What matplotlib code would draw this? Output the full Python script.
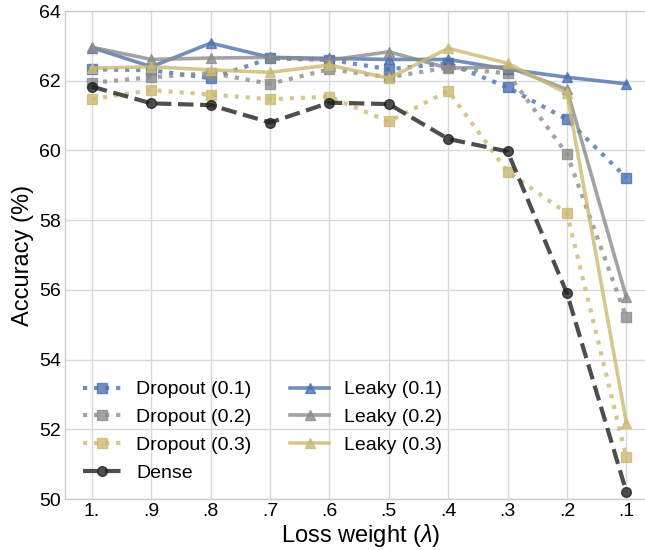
import matplotlib
matplotlib.use("Agg")
import matplotlib.pyplot as plt
import numpy as np

plt.rcParams['font.family'] = ['Liberation Sans', 'DejaVu Sans']
plt.rcParams['mathtext.fontset'] = 'custom'
plt.rcParams['mathtext.it'] = 'Liberation Sans:italic'
plt.rcParams['mathtext.rm'] = 'Liberation Sans'

tick_labels = ["1.", ".9", ".8", ".7", ".6", ".5", ".4", ".3", ".2", ".1"]

dropout_01 = [62.33, 62.30, 62.07, 62.64, 62.60, 62.33, 62.50, 61.81, 60.89, 59.22]
dropout_02 = [61.94, 62.10, 62.22, 61.91, 62.33, 62.10, 62.38, 62.21, 59.90, 55.21]
dropout_03 = [61.47, 61.73, 61.60, 61.47, 61.54, 60.83, 61.71, 59.39, 58.20, 51.20]
dense      = [61.83, 61.35, 61.30, 60.80, 61.37, 61.33, 60.33, 59.97, 55.90, 50.21]
leaky_01   = [62.95, 62.40, 63.08, 62.67, 62.64, 62.61, 62.61, 62.33, 62.10, 61.91]
leaky_02   = [62.96, 62.61, 62.65, 62.67, 62.59, 62.83, 62.36, 62.40, 61.75, 55.79]
leaky_03   = [62.36, 62.40, 62.31, 62.24, 62.45, 62.07, 62.93, 62.50, 61.64, 52.19]

blue = '#4C72B0'
grey = '#8C8C8C'
yellow = '#CCB974'
dark = '#222222'

fig = plt.figure(figsize=(6.45, 5.5), dpi=100)
ax = fig.add_axes([65/645, 51/550, (656-65)/645, 488/550])
x = np.arange(len(tick_labels))

a = 0.8
ax.plot(x, dropout_01, ls=':', lw=3, color=blue, marker='s', ms=7.5, alpha=a, label='Dropout (0.1)')
ax.plot(x, dropout_02, ls=':', lw=3, color=grey, marker='s', ms=7.5, alpha=a, label='Dropout (0.2)')
ax.plot(x, dropout_03, ls=':', lw=3, color=yellow, marker='s', ms=7.5, alpha=a, label='Dropout (0.3)')
ax.plot(x, dense, ls='--', lw=3, color=dark, marker='o', ms=7, alpha=a, label='Dense')
ax.plot(x, leaky_01, ls='-', lw=2.6, color=blue, marker='^', ms=7.5, alpha=a, label='Leaky (0.1)')
ax.plot(x, leaky_02, ls='-', lw=2.6, color=grey, marker='^', ms=7.5, alpha=a, label='Leaky (0.2)')
ax.plot(x, leaky_03, ls='-', lw=2.6, color=yellow, marker='^', ms=7.5, alpha=a, label='Leaky (0.3)')

ax.set_xlim(-0.455, 9.5)
ax.set_ylim(50, 64)
ax.set_yticks([50, 52, 54, 56, 58, 60, 62, 64])
ax.set_xticks(x)
ax.set_xticklabels(tick_labels)
ax.tick_params(labelsize=14, length=0, pad=3)
ax.grid(True, color='#d9d9d9', lw=1)
ax.set_axisbelow(True)
for s in ax.spines.values():
    s.set_color('#cccccc')
    s.set_linewidth(1)

ax.set_xlabel(r'Loss weight ($\lambda$)', fontsize=17, labelpad=1)
ax.set_ylabel('Accuracy (%)', fontsize=17, labelpad=3.5)

leg = ax.legend(ncol=2, loc='lower left', bbox_to_anchor=(0.0, 0.0), frameon=False,
                fontsize=14, handlelength=2.0, handletextpad=0.75,
                columnspacing=2.0, labelspacing=0.52)

fig.savefig('out.png', dpi=100)
